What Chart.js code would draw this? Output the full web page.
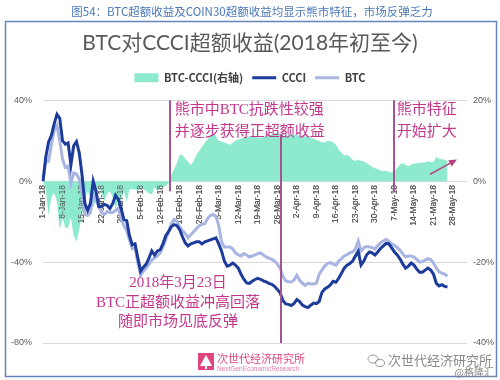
<!DOCTYPE html>
<html><head><meta charset="utf-8">
<script src="https://cdn.jsdelivr.net/npm/chart.js@4"></script>
<style>html,body{margin:0;padding:0;background:#fff}#wrap{width:500px;height:380px;position:relative}</style>
</head><body><div id="wrap"><canvas id="c"></canvas></div>
<script>
// ---- categories: daily dates 1-Jan-18 ... 2-Jun-18
const monthNames = ['Jan','Feb','Mar','Apr','May','Jun'];
const categories = [];
for (let i = 0; i < 153; i++) {
  const d = new Date(Date.UTC(2018, 0, 1 + i));
  categories.push(d.getUTCDate() + '-' + monthNames[d.getUTCMonth()] + '-18');
}
// ---- weekly tick labels shown on the x axis
const weekTicks = ['1-Jan-18','8-Jan-18','15-Jan-18','22-Jan-18','29-Jan-18','5-Feb-18','12-Feb-18','19-Feb-18','26-Feb-18','5-Mar-18','12-Mar-18','19-Mar-18','26-Mar-18','2-Apr-18','9-Apr-18','16-Apr-18','23-Apr-18','30-Apr-18','7-May-18','14-May-18','21-May-18','28-May-18'];

// ---- series (% values)
const ccci = [0,12,19.4,22.5,28.3,33,31,20,18.3,18.9,8,17.5,19.5,14,3,-11,-14.5,-11,0,-5,
 -12.5,-12.5,-11.5,-12,-13.5,-11,-7,-9,-13.5,-19,-19.5,-27,-31.5,-31,-38,-44.5,-42.5,-41,-38,-34.5,
 -36.5,-34.5,-34,-31,-27,-25,-22.5,-21.5,-22,-24,-27.5,-30.5,-32,-31,-30.5,-30,-30,-31,-30,-29.5,
 -29,-28.5,-28,-31,-34.5,-39.5,-42,-41.5,-40.5,-41.5,-43,-46,-48.5,-50.3,-50.5,-49.5,-48.6,-48,-48.5,-49.3,
 -49.8,-50.5,-51,-52,-53.5,-55.2,-59,-60.7,-60.9,-61.5,-60.5,-58.5,-59.5,-61.3,-62,-62.5,-61.3,-60.3,-60.6,-59.5,
 -55,-53.3,-52.5,-51.3,-49.5,-50,-48,-45.5,-43,-41.5,-40.7,-39.5,-37,-34.6,-41.5,-39.5,-36.5,-35,-35.5,-36.5,
 -35,-33.3,-32,-30.8,-31,-33,-35,-36.5,-38.5,-41,-43,-42,-40.5,-41.5,-43.5,-45,-45,-44,-43,-44,
 -46,-50.5,-51.8,-51.2,-52,-52.3];
const btc = [0,10,9.9,18,25,27.5,20,11,6.8,7.4,-1,4,3.5,1,-6,-16.5,-17,-15.5,-6.6,-9.5,
 -12.5,-15.5,-16.5,-15,-15.5,-15.5,-14.5,-13.5,-18.5,-22,-24.5,-29,-33.5,-33,-40.5,-46.5,-44.5,-43,-41,-39,
 -38,-37,-35.5,-32.5,-29,-25,-21,-18.9,-20,-22.5,-24.5,-26,-28,-26.5,-25,-23.5,-22,-21.4,-21,-18.5,
 -17,-16.5,-17.5,-22,-30,-32.5,-32.5,-32.5,-33.5,-35.5,-36.5,-37,-35.8,-36.5,-37.5,-37,-36.5,-35.8,-35.5,-36.5,
 -37.5,-38,-38.7,-39.5,-41,-43,-47,-49.2,-49.7,-49.8,-48.8,-46.5,-49,-50.5,-51.5,-50.5,-50.8,-50.8,-50.5,-46,
 -44,-42,-40.8,-40.3,-41,-41.5,-39.5,-38.3,-37,-36.3,-35.4,-35,-33.5,-29.6,-34.5,-33,-32.3,-32.5,-32.9,-33.5,
 -32,-30.5,-29.6,-28.8,-29.8,-31,-31.8,-32.8,-34.2,-36,-37.5,-37,-37,-37.5,-38.7,-40,-39.8,-39,-38.3,-38.8,
 -40.5,-43,-44.8,-45.5,-46,-47];
const excess = [0,-2,-8.5,-4,-3,-5,-12,-9,-11.5,-11.5,-9,-13.5,-15,-12,-8,-4.5,-2.5,-4,-6.5,-4.5,
 -1,-3,-5,-3,-2.5,-4,-7,-4.5,-5,-2.5,-5,-2,-2,-2,-2.5,-1.6,-2,-2.5,-3,-3.3,
 -1.5,-2.5,-1.5,-1.6,-1.2,-0.5,1.5,3,4.5,6.5,6.5,5.5,4.8,4,5,6.5,7.5,8.5,9.5,10.3,
 11.3,11.8,11,10,9.8,9.5,9.3,9,9.5,10,10.3,10.5,10.7,11,11,11.1,11,10.8,10.7,10.9,
 11.1,11.3,11.5,11.8,11.9,11.7,11.3,11.2,11.3,11.5,11.6,11.4,11.2,11.1,11,11.1,10.8,10.5,10.2,9.9,
 9.6,9.6,9.9,9.9,9.6,9,7.8,7,6.3,6.5,6,5.3,5,5.3,5,4.9,4.5,4,3.5,3.2,
 3,2.6,2.5,2.5,2.3,2.1,2.5,3.3,4.1,4.5,4,3.7,4.1,4.3,4.5,4.5,4.6,4.6,4.9,4.7,
 4.8,6,5.5,5.4,5.3,5];

const leftTicks = [40, 0, -40, -80];
const rightTicks = [20, 0, -20, -40];

// ---- annotation placement (category index, left-axis value)
const vLines = [{at:45.5, from:40, to:-5}, {at:85.3, from:23.2, to:-80}, {at:125.8, from:40, to:-5}];
const notes = [
  {at:47.2, v:35, text:'熊市中BTC抗跌性较强', align:'left'},
  {at:47.2, v:24.2, text:'并逐步获得正超额收益', align:'left'},
  {at:126.8, v:35, text:'熊市特征', align:'left'},
  {at:126.8, v:24.2, text:'开始扩大', align:'left'},
  {at:48.4, v:-50.4, text:'2018年3月23日', align:'center'},
  {at:48.4, v:-60.2, text:'BTC正超额收益冲高回落', align:'center'},
  {at:48.4, v:-69.6, text:'随即市场见底反弹', align:'center'}
];
const arrow = {from:[138.7, 1.65], to:[148.4, 5.36]}; // right-axis values

const CJK = "'Noto Sans CJK SC', sans-serif";
const NOTE_FONT = "15px 'Liberation Serif', 'Noto Sans CJK SC', serif";

// spacer box between legend and plot area
const spacerPlugin = {
  id: 'spacerPlugin',
  beforeInit(chart) {
    const box = {
      position: 'top', weight: -10, fullSize: true, options: {},
      width: 0, height: 0, left: 0, top: 0, right: 0, bottom: 0,
      isHorizontal() { return true; },
      update(maxWidth) { this.width = maxWidth; this.height = 7; },
      draw() {}
    };
    Chart.layouts.addBox(chart, box);
  }
};

const framePlugin = {
  id: 'framePlugin',
  beforeDraw(chart) {
    const ctx = chart.ctx;
    ctx.save(); ctx.fillStyle = '#fff'; ctx.fillRect(0, 0, chart.width, chart.height); ctx.restore();
  },
  afterDraw(chart) {
    const ctx = chart.ctx;
    ctx.save();
    ctx.fillStyle = '#4a78b8';
    ctx.font = "11.5px " + CJK;
    ctx.textAlign = 'center'; ctx.textBaseline = 'middle';
    ctx.fillText('图54：BTC超额收益及COIN30超额收益均显示熊市特征，市场反弹乏力', 252, 12);
    ctx.strokeStyle = '#6685bb'; ctx.lineWidth = 1.5;
    ctx.strokeRect(5.5, 21.5, 491, 355);
    // footer logo
    ctx.fillStyle = '#e0457f';
    ctx.fillRect(198, 353, 16, 17);
    ctx.fillStyle = '#fff';
    ctx.beginPath(); ctx.moveTo(206, 355); ctx.lineTo(212, 366); ctx.lineTo(200, 366); ctx.closePath(); ctx.fill();
    ctx.fillRect(205, 365, 2, 4);
    ctx.fillStyle = '#e0457f';
    ctx.textAlign = 'left';
    ctx.font = "11px " + CJK;
    ctx.fillText('次世代经济研究所', 217, 359);
    ctx.fillStyle = '#e47ea5';
    ctx.font = "6.5px 'Liberation Sans', sans-serif";
    ctx.fillText('NextGenEconomicResearch', 217, 369);
    // watermark
    ctx.strokeStyle = '#9a9a9a'; ctx.lineWidth = 1;
    ctx.beginPath(); ctx.ellipse(373, 359, 5, 4, 0, 0, Math.PI * 2); ctx.stroke();
    ctx.beginPath(); ctx.ellipse(380, 363, 4.5, 3.5, 0, 0, Math.PI * 2); ctx.stroke();
    ctx.fillStyle = '#8a8a8a';
    ctx.font = "13px " + CJK;
    ctx.fillText('次世代经济研究所', 388, 360);
    ctx.textAlign = 'right';
    ctx.font = "10px " + CJK;
    ctx.fillText('@格隆汇', 494, 372);
    ctx.restore();
  }
};

const notesPlugin = {
  id: 'notesPlugin',
  afterDatasetDraw(chart, args) {
    if (args.index === 0) chart.scales.x.drawLabels(chart.chartArea);
  },
  afterDatasetsDraw(chart) {
    const {ctx, scales} = chart;
    const x = scales.x, y = scales.y, y1 = scales.y1;
    ctx.save();
    ctx.strokeStyle = '#a4548e'; ctx.lineWidth = 2;
    vLines.forEach(l => {
      const px = Math.round(x.getPixelForValue(l.at));
      ctx.beginPath();
      ctx.moveTo(px, y.getPixelForValue(l.from));
      ctx.lineTo(px, y.getPixelForValue(l.to));
      ctx.stroke();
    });
    ctx.fillStyle = '#c4378c';
    ctx.font = NOTE_FONT;
    ctx.textBaseline = 'middle';
    notes.forEach(n => {
      ctx.textAlign = n.align;
      ctx.fillText(n.text, x.getPixelForValue(n.at), y.getPixelForValue(n.v));
    });
    const x0 = x.getPixelForValue(arrow.from[0]), yy0 = y1.getPixelForValue(arrow.from[1]);
    const x1 = x.getPixelForValue(arrow.to[0]), yy1 = y1.getPixelForValue(arrow.to[1]);
    const ang = Math.atan2(yy1 - yy0, x1 - x0);
    ctx.strokeStyle = '#b5407e'; ctx.fillStyle = '#b5407e'; ctx.lineWidth = 1.5;
    ctx.beginPath(); ctx.moveTo(x0, yy0);
    ctx.lineTo(x1 - 5 * Math.cos(ang), yy1 - 5 * Math.sin(ang)); ctx.stroke();
    ctx.beginPath();
    ctx.moveTo(x1, yy1);
    ctx.lineTo(x1 - 8 * Math.cos(ang) + 3.5 * Math.sin(ang), yy1 - 8 * Math.sin(ang) - 3.5 * Math.cos(ang));
    ctx.lineTo(x1 - 8 * Math.cos(ang) - 3.5 * Math.sin(ang), yy1 - 8 * Math.sin(ang) + 3.5 * Math.cos(ang));
    ctx.closePath(); ctx.fill();
    ctx.restore();
  }
};

new Chart(document.getElementById('c'), {
  type: 'line',
  data: {
    labels: categories,
    datasets: [
      {label: 'BTC-CCCI(右轴)', data: excess, yAxisID: 'y1', fill: 'origin',
       backgroundColor: '#8eeacf', borderColor: 'rgba(0,0,0,0)', borderWidth: 0,
       pointRadius: 0, pointStyle: 'rect', pointBackgroundColor: '#8eeacf', pointBorderWidth: 0,
       tension: 0, order: 3},
      {label: 'CCCI', data: ccci, yAxisID: 'y', fill: false,
       borderColor: '#1d3b9a', backgroundColor: '#1d3b9a', borderWidth: 3,
       pointRadius: 0, pointStyle: 'line', pointBorderColor: '#1d3b9a', pointBorderWidth: 3,
       tension: 0, order: 1},
      {label: 'BTC', data: btc, yAxisID: 'y', fill: false,
       borderColor: '#a8b4e2', backgroundColor: '#a8b4e2', borderWidth: 3,
       pointRadius: 0, pointStyle: 'line', pointBorderColor: '#a8b4e2', pointBorderWidth: 3,
       tension: 0, order: 2}
    ]
  },
  options: {
    responsive: true, maintainAspectRatio: false, animation: false, events: [],
    layout: {padding: {left: 5, right: 5, top: 26, bottom: 37}},
    plugins: {
      tooltip: {enabled: false},
      title: {display: true, text: 'BTC对CCCI超额收益(2018年初至今)', color: '#595959',
              font: {family: "Lato, 'Noto Sans CJK SC', sans-serif", size: 21, weight: 'normal'},
              padding: {top: 5, bottom: 7}},
      legend: {position: 'top',
        labels: {usePointStyle: true, pointStyleWidth: 24, boxHeight: 9, padding: 9,
                 color: '#404040', font: {family: CJK, size: 11, weight: 'bold'},
                 sort: (a, b) => a.datasetIndex - b.datasetIndex}}
    },
    scales: {
      x: {type: 'category', position: {y: 0},
          grid: {display: false, drawTicks: false}, border: {display: false},
          ticks: {autoSkip: false, minRotation: 90, maxRotation: 90, padding: 4,
                  color: '#595959', font: {family: "'Liberation Sans', sans-serif", size: 8.5},
                  callback(v) { const l = this.getLabelForValue(v); return weekTicks.includes(l) ? l : null; }}},
      y: {position: 'left', min: -80, max: 40,
          afterBuildTicks: s => { s.ticks = leftTicks.map(v => ({value: v})); },
          afterFit: s => { s.width = 38; },
          grid: {color: '#d9d9d9', drawTicks: false}, border: {display: false},
          ticks: {padding: 11, color: '#595959', font: {family: "'Liberation Sans', sans-serif", size: 9},
                  callback: v => v + '%'}},
      y1: {position: 'right', min: -40, max: 20,
           afterBuildTicks: s => { s.ticks = rightTicks.map(v => ({value: v})); },
           afterFit: s => { s.width = 28; },
           grid: {display: false, drawTicks: false}, border: {display: false},
           ticks: {padding: 6, color: '#595959', font: {family: "'Liberation Sans', sans-serif", size: 9},
                   callback: v => v + '%'}}
    }
  },
  plugins: [spacerPlugin, framePlugin, notesPlugin]
});
</script></body></html>
